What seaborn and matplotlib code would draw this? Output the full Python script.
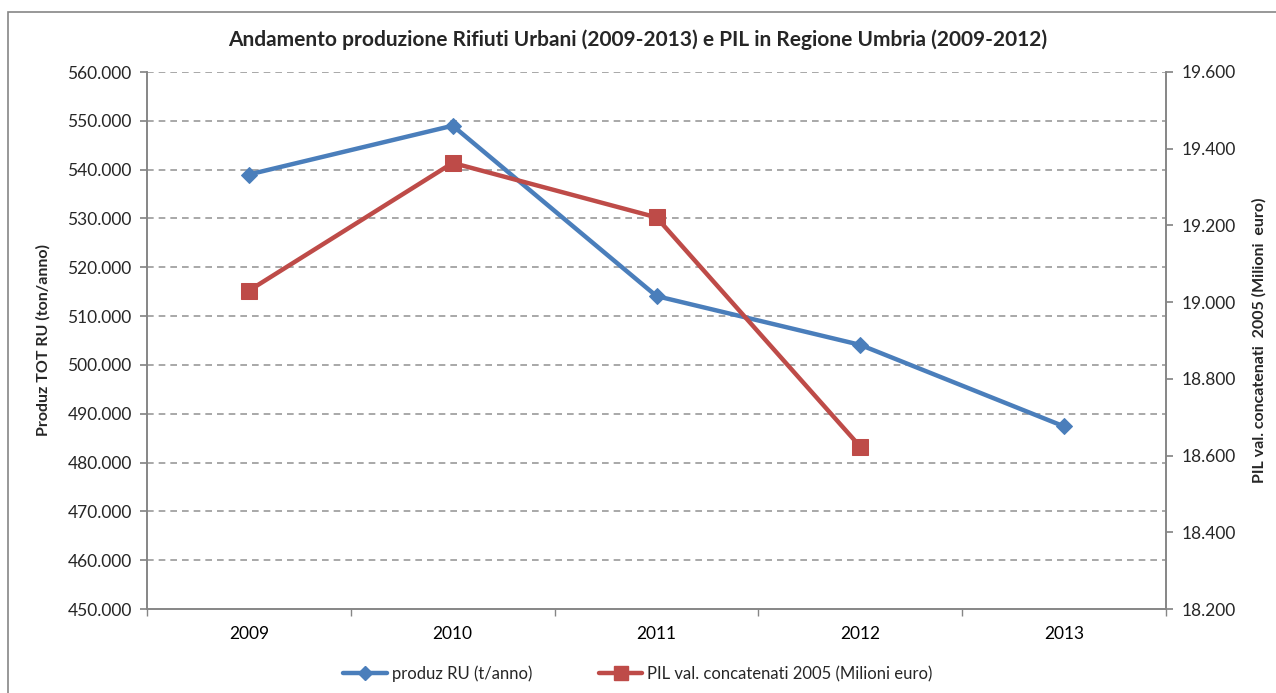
import matplotlib
matplotlib.use("Agg")
import matplotlib.pyplot as plt
import matplotlib.ticker as mticker
from matplotlib.patches import Rectangle
from matplotlib.lines import Line2D
import seaborn as sns
import pandas as pd

# dati
anni = ["2009", "2010", "2011", "2012", "2013"]
produz_ru = [539000, 549000, 514100, 504100, 487400]
anni_pil = ["2009", "2010", "2011", "2012"]
pil = [19030, 19363, 19221, 18623]

BLU = "#4A7EBB"
ROSSO = "#BE4B48"
GRIGIO = "#868686"

sns.set_theme(style="white")
plt.rcParams['font.family'] = ['Lato', 'DejaVu Sans']

df_ru = pd.DataFrame({"anno": anni, "val": produz_ru})
df_pil = pd.DataFrame({"anno": anni_pil, "val": pil})
df_ru["x"] = range(len(anni))
df_pil["x"] = range(len(anni_pil))

fig = plt.figure(figsize=(12.76, 6.93), dpi=100)
ax = fig.add_axes([147 / 1276, 1 - 609 / 693, (1166 - 147) / 1276, (609 - 72) / 693])
ax2 = ax.twinx()

sns.lineplot(data=df_ru, x="x", y="val", ax=ax, color=BLU, lw=3.2,
             marker="D", markersize=8, markeredgecolor=BLU)
sns.lineplot(data=df_pil, x="x", y="val", ax=ax2, color=ROSSO, lw=3.2,
             marker="s", markersize=11, markeredgecolor=ROSSO)

fmt = mticker.FuncFormatter(lambda v, p: f"{v:,.0f}".replace(",", "."))

ax.set_xlim(-0.5, len(anni) - 0.5)
ax.set_ylim(450000, 560000)
ax.set_yticks(range(450000, 560001, 10000))
ax.yaxis.set_major_formatter(fmt)
ax.set_xticks(range(len(anni)))
ax.set_xticklabels(anni)
ax.xaxis.set_minor_locator(mticker.FixedLocator([i - 0.5 for i in range(len(anni) + 1)]))
ax.tick_params(axis="x", which="major", length=0, pad=12, labelsize=12.5, colors="black")
ax.tick_params(axis="x", which="minor", length=5, color=GRIGIO, direction="out", bottom=True)
ax.tick_params(axis="y", length=5, color=GRIGIO, left=True, direction="out", pad=6, labelsize=12.5)

ax2.set_ylim(18200, 19600)
ax2.set_yticks(range(18200, 19601, 200))
ax2.yaxis.set_major_formatter(fmt)
ax2.tick_params(axis="y", length=5, color=GRIGIO, right=True, direction="out", pad=6, labelsize=12.5)

for a in (ax, ax2):
    a.set_xlabel("")
    a.spines["top"].set_visible(False)
    for s in ("left", "right", "bottom"):
        a.spines[s].set_color(GRIGIO)
        a.spines[s].set_linewidth(1.2)

for v in range(460000, 560001, 10000):
    ax.axhline(v, color="#9A9A9A", lw=1.2, ls=(0, (4, 3)), zorder=0)

ax.set_ylabel("Produz TOT RU (ton/anno)", fontsize=11.5, fontweight="bold")
ax2.set_ylabel("PIL val. concatenati  2005 (Milioni  euro)", fontsize=11.5, fontweight="bold",
               labelpad=12)
ax.yaxis.set_label_coords(-0.095, 0.5)

fig.text(0.5, 1 - 40 / 693, "Andamento produzione Rifiuti Urbani (2009-2013) e PIL in Regione Umbria (2009-2012)",
         ha="center", va="center", fontsize=15, fontweight="bold")

handles = [
    Line2D([], [], color=BLU, lw=3.2, marker="D", markersize=7),
    Line2D([], [], color=ROSSO, lw=3.2, marker="s", markersize=10),
]
fig.legend(handles, ["produz RU (t/anno)", "PIL val. concatenati 2005 (Milioni euro)"],
           loc="center", bbox_to_anchor=(0.5, 1 - 674 / 693), ncol=2, frameon=False,
           fontsize=12, handlelength=2.6, columnspacing=4, handletextpad=0.3)

fig.patches.append(Rectangle((8 / 1276, -0.01), 1.02, 1 - 12 / 693 + 0.01, transform=fig.transFigure,
                             fill=False, edgecolor=GRIGIO, lw=1.2))

fig.savefig("out.png", dpi=100)
